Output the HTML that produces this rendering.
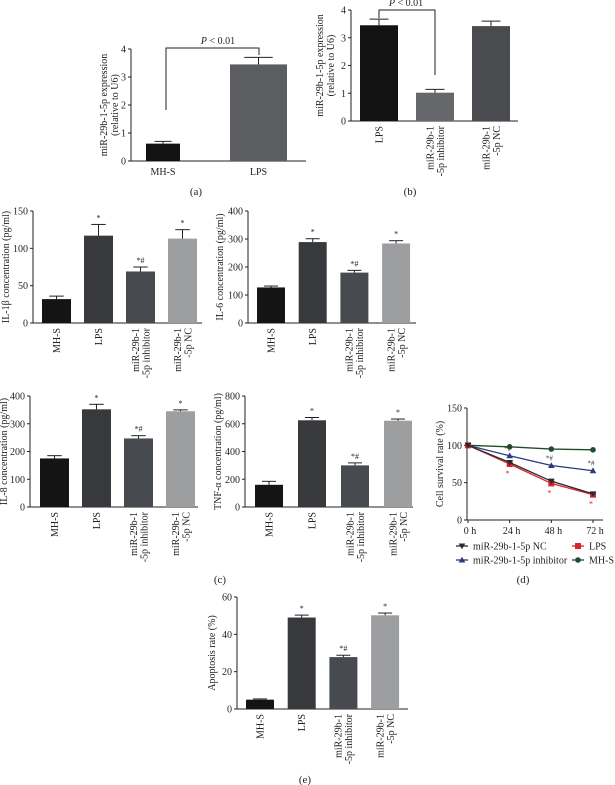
<!DOCTYPE html>
<html><head><meta charset="utf-8"><style>
html,body{margin:0;padding:0;background:#fff;}
svg{display:block;font-family:"Liberation Serif",serif;}
</style></head><body>
<svg id="fig" width="615" height="785" viewBox="0 0 615 785" xmlns="http://www.w3.org/2000/svg"></svg>
<script>
// ---- data ----
const aCats=["MH-S","LPS"];
const aVals=[0.62,3.45];
const aErrs=[0.08,0.25];
const bCats=[["LPS"],["miR-29b-1","-5p inhibitor"],["miR-29b-1","-5p NC"]];
const bVals=[3.45,1.02,3.42];
const bErrs=[0.22,0.12,0.18];
const cCats=[["MH-S"],["LPS"],["miR-29b-1","-5p inhibitor"],["miR-29b-1","-5p NC"]];
const il1Vals=[32,117,69,113];
const il1Errs=[4,15,6,12];
const il6Vals=[127,289,180,284];
const il6Errs=[5,12,8,10];
const il8Vals=[175,352,247,345];
const il8Errs=[10,18,10,5];
const tnfVals=[160,625,300,622];
const tnfErrs=[25,20,18,12];
const apoVals=[5,49,27.8,50.2];
const apoErrs=[0.4,1.3,1,1.2];
const sigMarks=["","*","*#","*"];
const aTicks=[0,1,2,3,4];
const il1Ticks=[0,50,100,150];
const il6Ticks=[0,100,200,300,400];
const tnfTicks=[0,200,400,600,800];
const apoTicks=[0,20,40,60];
const dTimes=["0 h","24 h","48 h","72 h"];
const dTicks=[0,50,100,150];
const dNC=[100,77,52,35];
const dLPS=[100,75,49,34];
const dInh=[100,86,73,66];
const dMHS=[100,98,95,94];

const NS="http://www.w3.org/2000/svg";
const svg=document.getElementById('fig');
function el(tag,attrs,parent,txt){const e=document.createElementNS(NS,tag);for(const k in attrs)e.setAttribute(k,attrs[k]);if(txt!==undefined)e.textContent=txt;(parent||svg).appendChild(e);return e;}

function barChart(c){
  const g=el('g',{});
  
  
  const max=c.ticks[c.ticks.length-1];
  const Y=v=>c.y0-(v/max)*(c.y0-c.yTop);
  const ya=el('line',{x1:c.x0,y1:c.yTop,x2:c.x0,y2:c.y0,stroke:'#222','stroke-width':1},g);
  
  const xa=el('line',{x1:c.x0,y1:c.y0,x2:c.x1,y2:c.y0,stroke:'#222','stroke-width':1},g);
  
  c.ticks.forEach(t=>{
    el('line',{x1:c.x0-3,y1:Y(t),x2:c.x0,y2:Y(t),stroke:'#222'},g);
    const tl=el('text',{x:c.x0-5,y:Y(t)+3.5,'font-size':10,'text-anchor':'end',fill:'#222'},g,t);
    
  });
  const tt=el('text',{transform:`translate(${c.tx},${(c.y0+c.yTop)/2}) rotate(-90)`,'font-size':10,'text-anchor':'middle',fill:'#222'},g);
  
  c.title.forEach((ln,i)=>{el('tspan',{x:0,dy:i?11:0},tt,ln);});
  c.vals.forEach((v,i)=>{
    const w=(c.bws?c.bws[i]:c.bw), l=c.first+i*c.pitch, cx=l+w/2;
    const r=el('rect',{x:l,y:Y(v),width:w,height:c.y0-Y(v),fill:c.colors[i]},g);
    
    const ey=Y(v+c.errs[i]);
    el('line',{x1:cx,y1:Y(v),x2:cx,y2:ey,stroke:'#222'},g);
    el('line',{x1:cx-w*0.25,y1:ey,x2:cx+w*0.25,y2:ey,stroke:'#222'},g);
    if(c.marks&&c.marks[i]){const m=el('text',{x:cx,y:ey-4,'font-size':8,'text-anchor':'middle',fill:'#222'},g,c.marks[i]);}
    const cat=c.cats[i];
    if(c.horizLabels){
      const t=el('text',{x:cx,y:c.y0+14,'font-size':10,'text-anchor':'middle',fill:'#222'},g,cat);
      
    } else {
      const n=cat.length;
      cat.forEach((ln,j)=>{
        const lx=cx+(j-(n-1)/2)*10.5+3.5;
        const t=el('text',{transform:`translate(${lx},${c.y0+5}) rotate(-90)`,'font-size':10,'text-anchor':'end',fill:'#222'},g,ln);
        
      });
    }
  });
  return {g,Y};
}
const cCol=['#141414','#38393d','#474a4e','#9d9ea0'];

// (a)
const pa=barChart({name:'panel-a',x0:131,x1:306,y0:161,yTop:49,ticks:aTicks,vals:aVals,errs:aErrs,cats:aCats,horizLabels:true,first:146,pitch:84,bw:34,bws:[34,57],colors:['#121212','#5c5d61'],tx:107,title:['miR-29b-1-5p expression','(relative to U6)']});
el('path',{d:`M166,110 V48 H259 V55`,fill:'none',stroke:'#222'},pa.g);
el('text',{x:218,y:44,'font-size':10,'text-anchor':'middle',fill:'#222'},pa.g).innerHTML='<tspan font-style="italic">P</tspan> &lt; 0.01';
// (b)
const pb=barChart({name:'panel-b',x0:351,x1:518,y0:121,yTop:10,ticks:aTicks,vals:bVals,errs:bErrs,cats:bCats,first:360,pitch:56,bw:38,colors:['#121212','#66676b','#4a4b4f'],tx:323,title:['miR-29b-1-5p expression','(relative to U6)']});
el('path',{d:`M379,18 V10 H435 V75`,fill:'none',stroke:'#222'},pb.g);
el('text',{x:406,y:6,'font-size':10,'text-anchor':'middle',fill:'#222'},pb.g).innerHTML='<tspan font-style="italic">P</tspan> &lt; 0.01';

// (c)
barChart({name:'panel-c-il1b',x0:33,x1:202,y0:323,yTop:211,ticks:il1Ticks,vals:il1Vals,errs:il1Errs,cats:cCats,marks:sigMarks,first:42,pitch:42,bw:29,colors:cCol,tx:9,title:['IL-1β concentration (pg/ml)']});
barChart({name:'panel-c-il6',x0:248,x1:416,y0:323,yTop:211,ticks:il6Ticks,vals:il6Vals,errs:il6Errs,cats:cCats,marks:sigMarks,first:257,pitch:41.7,bw:28,colors:cCol,tx:223,title:['IL-6 concentration (pg/ml)']});
barChart({name:'panel-c-il8',x0:30,x1:198,y0:507,yTop:396,ticks:il6Ticks,vals:il8Vals,errs:il8Errs,cats:cCats,marks:sigMarks,first:40,pitch:42,bw:29,colors:cCol,tx:7,title:['IL-8 concentration (pg/ml)']});
barChart({name:'panel-c-tnf',x0:245,x1:413,y0:507,yTop:396,ticks:tnfTicks,vals:tnfVals,errs:tnfErrs,cats:cCats,marks:sigMarks,first:255,pitch:43,bw:28,colors:cCol,tx:221,title:['TNF-α concentration (pg/ml)']});
// (e)
barChart({name:'panel-e',x0:237,x1:408,y0:709,yTop:597,ticks:apoTicks,vals:apoVals,errs:apoErrs,cats:cCats,marks:sigMarks,first:246,pitch:41.7,bw:28,colors:cCol,tx:215,title:['Apoptosis rate (%)']});

// (d) line chart
(function(){
  const g=el('g',{});
  
  
  const x0=467,y0=520,yTop=408,xs0=468,xs1=593;
  const Y=v=>y0-v/150*(y0-yTop);
  const X=i=>xs0+i*(xs1-xs0)/(dTimes.length-1);
  el('line',{x1:x0,y1:yTop,x2:x0,y2:y0,stroke:'#222'},g);
  el('line',{x1:x0,y1:y0,x2:603,y2:y0,stroke:'#222'},g);
  dTicks.forEach(t=>{el('line',{x1:x0-3,y1:Y(t),x2:x0,y2:Y(t),stroke:'#222'},g);
    const tl=el('text',{x:x0-5,y:Y(t)+3.5,'font-size':10,'text-anchor':'end',fill:'#222'},g,t);
    });
  dTimes.forEach((t,i)=>{el('line',{x1:X(i),y1:y0,x2:X(i),y2:y0+3,stroke:'#222'},g);
    const tl=el('text',{x:X(i)+2,y:y0+14,'font-size':10,'text-anchor':'middle',fill:'#222'},g,t);
    });
  const tt=el('text',{transform:`translate(${443},${(y0+yTop)/2}) rotate(-90)`,'font-size':10,'text-anchor':'middle',fill:'#222'},g,'Cell survival rate (%)');
  
  const series=[[dMHS,'#1f4d2a','circle'],[dInh,'#2a3a80','tri'],[dLPS,'#d8232a','square'],[dNC,'#2a2a2a','tridown']];
  function marker(x,y,type,col,pg){
    if(type==='circle')return el('circle',{cx:x,cy:y,r:2.8,fill:col},pg);
    if(type==='square')return el('rect',{x:x-3,y:y-3,width:6,height:6,fill:col},pg);
    if(type==='tri')return el('path',{d:`M${x},${y-3.3} L${x+3.3},${y+2.5} L${x-3.3},${y+2.5} Z`,fill:col},pg);
    return el('path',{d:`M${x},${y+3.3} L${x+3.3},${y-2.5} L${x-3.3},${y-2.5} Z`,fill:col},pg);
  }
  series.forEach(([vals,col,type])=>{
    const sg=el('g',{},g);
    
    
    el('polyline',{points:vals.map((v,i)=>X(i)+','+Y(v)).join(' '),fill:'none',stroke:col,'stroke-width':1.3},sg);
    vals.forEach((v,i)=>{const m=marker(X(i),Y(v),type,col,sg);});
  });
  dInh.forEach((v,i)=>{if(i>0){el('text',{x:X(i)-2,y:Y(v)-5,'font-size':7,'text-anchor':'middle',fill:'#333'},g,'*#');}});
  dLPS.forEach((v,i)=>{if(i>0){el('text',{x:X(i)-2,y:Y(v)+12,'font-size':8,'text-anchor':'middle',fill:'#d8232a'},g,'*');}});
  const leg=[[462,546,'tridown','#2a2a2a','miR-29b-1-5p NC'],[578,546,'square','#d8232a','LPS'],[462,560,'tri','#2a3a80','miR-29b-1-5p inhibitor'],[578,560,'circle','#1f4d2a','MH-S']];
  leg.forEach(([x,y,type,col,lab])=>{
    const lg=el('g',{},g);
    
    
    el('line',{x1:x-6,y1:y,x2:x+6,y2:y,stroke:col,'stroke-width':1.3},lg);
    marker(x,y,type,col,lg);
    el('text',{x:x+11,y:y+3.5,'font-size':10,fill:'#222'},lg,lab);
  });
})();

// panel letters
[['(a)',196,195],['(b)',410,195],['(c)',220,583],['(d)',523,583],['(e)',305,783]].forEach(([t,x,y])=>{
  const e=el('text',{x:x,y:y,'font-size':11,'text-anchor':'middle',fill:'#222'},svg,t);
  
  
});
</script>
</body></html>
